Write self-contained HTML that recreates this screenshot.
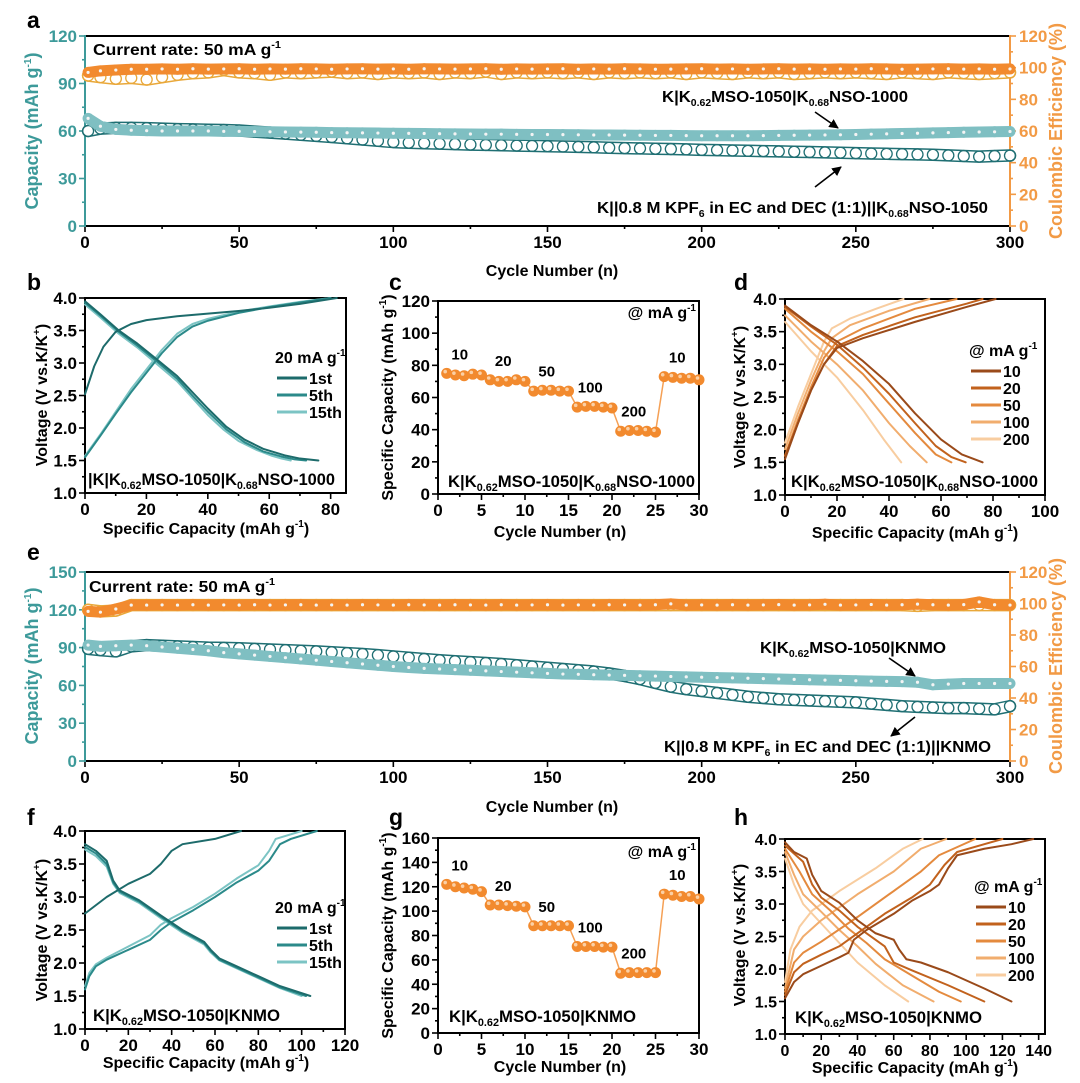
<!DOCTYPE html>
<html><head><meta charset="utf-8">
<style>
html,body{margin:0;padding:0;background:#fff;}
svg{display:block;font-family:"Liberation Sans",Arial,sans-serif;font-weight:bold;}
</style></head>
<body>
<svg id="fig" width="1080" height="1083" viewBox="0 0 1080 1083" xmlns="http://www.w3.org/2000/svg">
<rect width="1080" height="1083" fill="#fff"/>
<g id="static" font-weight="bold">
<text x="27" y="28" font-size="23">a</text>
<text x="27" y="290" font-size="23">b</text>
<text x="389" y="290" font-size="23">c</text>
<text x="734" y="290" font-size="23">d</text>
<text x="27" y="560" font-size="23">e</text>
<text x="27" y="825" font-size="23">f</text>
<text x="389" y="825" font-size="23">g</text>
<text x="734" y="825" font-size="23">h</text>

<text x="93" y="55" font-size="16" textLength="188" lengthAdjust="spacingAndGlyphs">Current rate: 50 mA g<tspan font-size="10" dy="-7">-1</tspan></text>
<text x="662" y="102" font-size="16" textLength="246" lengthAdjust="spacingAndGlyphs">K|K<tspan font-size="10" dy="4">0.62</tspan><tspan dy="-4">MSO-1050|K</tspan><tspan font-size="10" dy="4">0.68</tspan><tspan dy="-4">NSO-1000</tspan></text>
<text x="597" y="213" font-size="16" textLength="391" lengthAdjust="spacingAndGlyphs">K||0.8 M KPF<tspan font-size="10" dy="4">6</tspan><tspan dy="-4"> in EC and DEC (1:1)||K</tspan><tspan font-size="10" dy="4">0.68</tspan><tspan dy="-4">NSO-1050</tspan></text>
<text x="89" y="592" font-size="16" textLength="186" lengthAdjust="spacingAndGlyphs">Current rate: 50 mA g<tspan font-size="10" dy="-7">-1</tspan></text>
<text x="760" y="653" font-size="16" textLength="186" lengthAdjust="spacingAndGlyphs">K|K<tspan font-size="10" dy="4">0.62</tspan><tspan dy="-4">MSO-1050|KNMO</tspan></text>
<text x="664" y="752" font-size="16" textLength="327" lengthAdjust="spacingAndGlyphs">K||0.8 M KPF<tspan font-size="10" dy="4">6</tspan><tspan dy="-4"> in EC and DEC (1:1)||KNMO</tspan></text>

<text x="88" y="485" font-size="17" textLength="247" lengthAdjust="spacingAndGlyphs">|K|K<tspan font-size="11" dy="4">0.62</tspan><tspan dy="-4">MSO-1050|K</tspan><tspan font-size="11" dy="4">0.68</tspan><tspan dy="-4">NSO-1000</tspan></text>
<text x="448" y="487" font-size="17" textLength="247" lengthAdjust="spacingAndGlyphs">K|K<tspan font-size="11" dy="4">0.62</tspan><tspan dy="-4">MSO-1050|K</tspan><tspan font-size="11" dy="4">0.68</tspan><tspan dy="-4">NSO-1000</tspan></text>
<text x="791" y="487" font-size="17" textLength="247" lengthAdjust="spacingAndGlyphs">K|K<tspan font-size="11" dy="4">0.62</tspan><tspan dy="-4">MSO-1050|K</tspan><tspan font-size="11" dy="4">0.68</tspan><tspan dy="-4">NSO-1000</tspan></text>
<text x="93" y="1021" font-size="17" textLength="187" lengthAdjust="spacingAndGlyphs">K|K<tspan font-size="11" dy="4">0.62</tspan><tspan dy="-4">MSO-1050|KNMO</tspan></text>
<text x="449" y="1022" font-size="17" textLength="187" lengthAdjust="spacingAndGlyphs">K|K<tspan font-size="11" dy="4">0.62</tspan><tspan dy="-4">MSO-1050|KNMO</tspan></text>
<text x="795" y="1023" font-size="17" textLength="187" lengthAdjust="spacingAndGlyphs">K|K<tspan font-size="11" dy="4">0.62</tspan><tspan dy="-4">MSO-1050|KNMO</tspan></text>

<text x="696" y="318" font-size="16" text-anchor="end">@ mA g<tspan font-size="10" dy="-7">-1</tspan></text>
<text x="696" y="857" font-size="16" text-anchor="end">@ mA g<tspan font-size="10" dy="-7">-1</tspan></text>

<defs><marker id="ah" viewBox="0 0 10 10" refX="9" refY="5" markerWidth="6" markerHeight="6" orient="auto"><path d="M0,0L10,5L0,10z" fill="#000"/></marker></defs>
<line x1="815" y1="112" x2="838" y2="128" stroke="#000" stroke-width="1.6" marker-end="url(#ah)"/>
<line x1="815" y1="187" x2="841" y2="167" stroke="#000" stroke-width="1.6" marker-end="url(#ah)"/>
<line x1="889" y1="658" x2="915" y2="676" stroke="#000" stroke-width="1.6" marker-end="url(#ah)"/>
<line x1="915" y1="717" x2="891" y2="736" stroke="#000" stroke-width="1.6" marker-end="url(#ah)"/>
</g>
<g id="dyn"></g>
</svg>
<script>
const cycles = [1,5,10,15,20,25,30,35,40,45,50,55,60,65,70,75,80,85,90,95,100,105,110,115,120,125,130,135,140,145,150,155,160,165,170,175,180,185,190,195,200,205,210,215,220,225,230,235,240,245,250,255,260,265,270,275,280,285,290,295,300];
const aCapNew = [68,63,61,60.5,60.2,60,60,60,60,59.8,59.8,59.6,59.5,59.4,59.3,59.2,59,58.9,58.8,58.7,58.6,58.5,58.4,58.3,58.2,58.1,58,58,57.9,57.8,57.8,57.7,57.6,57.5,57.5,57.4,57.3,57.2,57.2,57.1,57,57,57,57,57.1,57.2,57.3,57.4,57.5,57.6,57.8,58,58.2,58.4,58.6,58.8,59,59.2,59.4,59.5,59.7];
const aCapLiq = [60,61.5,62,62,61.8,61.5,61.2,61,60.8,60.6,60.3,59.6,59,58.3,57.6,56.9,56.2,55.4,54.6,53.8,53,52.6,52.3,52,51.7,51.4,51.2,51,50.8,50.6,50.4,50.2,50,49.7,49.4,49.2,49,48.8,48.6,48.4,48.1,47.9,47.7,47.5,47.3,47.1,46.9,46.7,46.5,46.3,46,45.8,45.6,45.4,45.2,45,44.6,44.2,43.8,44.2,44.5];
const aCENew = [97,98,98.5,99,99,99.2,99,99.3,99.1,99.2,99.3,99,99.2,99.1,99.3,99.2,99,99.2,99.3,99.1,99.2,99,99.3,99.2,99.1,99.2,99.3,99,99.2,99.1,99.2,99.3,99,99.2,99.1,99.3,99.2,99,99.1,99.2,99.3,99.1,99.2,99,99.2,99.3,99.1,99.2,99,99.2,99.1,99.3,99.2,99,99.1,99.2,99.3,99.1,99.2,99,99.2];
const aCEOpen = [95,94,93,93.5,92.5,94,95.5,96.5,97,98.5,97,96.5,95.5,97,96.5,97,97.5,96.5,97,96,97,96.5,97,96,97,96.5,97.5,96,97,96.5,97,96.5,97,96,97,96.5,97,96.5,97,96,97,96.5,96,97,96.5,97,96,96.5,97,96.5,97,96.5,96,97,96.5,96,97,96.5,96,96.5,97];
const eCapNew = [92,91,91.5,92,91.5,90.5,89.5,88.5,87.5,86,85,84,83,82,81,80,79,78,77,76,75,74.2,73.5,73,72.5,72,71.5,71,70.5,70,69.5,69,68.8,68.5,68.2,68,67.7,67.4,67.1,66.8,66.5,66.2,66,65.7,65.4,65.1,64.8,64.5,64.2,64,63.7,63.4,63.2,63,62.5,60.5,61,61.5,61.5,61.5,61.5];
const eCapLiq = [89,88,87,91,92,91.5,91,90.5,90,89.8,89.5,89,88.5,88,87.5,87,86.3,85.6,84.9,84,83,82,81,80,79.2,78.5,77.8,77,76,75,74,73,72,71,69.5,67.5,65,62,59,57,55.5,54,52.5,51,50,49,48.5,48,47.5,47,46.5,45.5,44.5,43.5,43,42.5,42,42,41.5,41,43.5];
const eCENew = [95,94.5,96.5,99,99,99.1,99,99.2,99,99.1,99,99.2,99,99.1,99.2,99,99.1,99,99.2,99.1,99,99.2,99.1,99,99.2,99.1,99,99.2,99,99.1,99.2,99,99.1,99,99.2,99.1,99,99.2,99.8,99,99.1,99,99.2,99,99.1,99.3,99,99.1,99.5,99,99.1,99.4,99,99.2,99.6,99.2,99,99.3,101,99.2,99];
const eCEOpen = [96,95,95.5,99,99,99,99,99,99,99,99,99,99,99,99,99,99,99,99,99,99,99,99,99,99,99,99,99,99,99,99,99,99,99,99,99,99,99,99,99,99,99,99,99,99,99,99,99,99,99,99,99,99,99,98.5,99,99,99,99,99,99];

const rateCycles = [1,2,3,4,5,6,7,8,9,10,11,12,13,14,15,16,17,18,19,20,21,22,23,24,25,26,27,28,29,30];
const cCap = [75,74,73.5,74.5,74,71,70,70,71,70,64,64.5,64.5,64,64,54,54.5,54.5,54,53.5,39,39.5,39.5,39,38.5,73,72.5,72,72,71];
const gCap = [122,120,119,118,116,105,105,104.5,104,103.5,88,88,88,88,88,71,71,71,70.5,70.5,49,49.5,49.5,49.5,49.5,114,113,112,112,110];
const rateLabels = ['10','20','50','100','200','10'];

const bCh1Q=[0,3,6,10,15,20,30,40,50,60,70,82], bCh1V=[2.52,2.95,3.25,3.48,3.6,3.66,3.72,3.76,3.8,3.85,3.91,4.0];
const bCh5Q=[0,5,10,15,20,25,30,35,40,50,60,70,80], bCh5V=[1.55,1.88,2.22,2.55,2.85,3.15,3.4,3.56,3.65,3.77,3.86,3.93,4.0];
const bCh15Q=[0,5,10,15,20,25,30,35,40,50,60,70,80], bCh15V=[1.57,1.9,2.25,2.6,2.9,3.2,3.45,3.6,3.68,3.79,3.87,3.94,4.0];
const bDc1Q=[0,5,11,17,23,30,35,40,46,52,58,65,70,76], bDc1V=[3.95,3.75,3.5,3.3,3.07,2.8,2.55,2.3,2.02,1.82,1.68,1.58,1.53,1.5];
const bDc5Q=[0,5,11,17,23,30,35,40,46,52,58,64,68,72], bDc5V=[3.93,3.73,3.48,3.27,3.04,2.76,2.5,2.25,1.98,1.78,1.64,1.56,1.52,1.5];
const bDc15Q=[0,5,11,17,23,30,35,40,45,50,56,61,64,67], bDc15V=[3.9,3.7,3.45,3.24,3.0,2.72,2.46,2.2,1.98,1.8,1.66,1.57,1.53,1.5];

const dChQ=[[0,5,10,15,20,30,50,70,81],[0,5,10,15,20,30,50,70,76],[0,5,10,15,20,30,50,66],[0,5,10,15,18,25,40,55.5],[0,5,10,15,18,25,35,45.6]];
const dChV=[[1.55,2.1,2.6,3.0,3.25,3.4,3.65,3.88,4.0],[1.6,2.1,2.6,3.0,3.28,3.45,3.72,3.93,4.0],[1.6,2.15,2.65,3.1,3.35,3.55,3.85,4.0],[1.7,2.25,2.75,3.2,3.4,3.6,3.82,4.0],[1.8,2.35,2.85,3.35,3.55,3.7,3.85,4.0]];
const dDcQ=[[0,10,20,30,40,50,60,68,76],[0,10,20,30,40,50,58,64,69.5],[0,10,20,30,40,50,58,64],[0,10,20,30,40,48,54.5],[0,10,20,30,38,44.7]];
const dDcV=[[3.9,3.6,3.35,3.05,2.7,2.25,1.85,1.62,1.5],[3.88,3.58,3.3,2.95,2.55,2.1,1.75,1.58,1.5],[3.85,3.5,3.2,2.85,2.4,1.95,1.62,1.5],[3.75,3.35,3.0,2.6,2.1,1.75,1.5],[3.65,3.2,2.8,2.3,1.85,1.5]];
const rateNames=['10','20','50','100','200'];

const fCh1Q=[0,10,20,30,35,40,45,60,72], fCh1V=[2.75,3.0,3.2,3.35,3.5,3.7,3.8,3.88,4.0];
const fCh5Q=[0,2,5,10,20,30,35,40,50,60,70,80,85,90,95,107], fCh5V=[1.6,1.8,1.95,2.05,2.2,2.35,2.5,2.62,2.8,3.0,3.22,3.4,3.55,3.8,3.88,4.0];
const fCh15Q=[0,2,5,10,20,30,35,40,50,60,70,80,85,88,100], fCh15V=[1.65,1.85,1.98,2.08,2.25,2.42,2.58,2.68,2.85,3.05,3.28,3.48,3.7,3.88,4.0];
const fDc1Q=[0,5,10,13,16,25,35,45,55,58,62,70,80,90,104], fDc1V=[3.8,3.7,3.55,3.25,3.1,2.95,2.72,2.5,2.32,2.2,2.07,1.95,1.8,1.65,1.5];
const fDc5Q=[0,5,10,13,16,25,35,45,55,58,62,70,80,90,102], fDc5V=[3.76,3.66,3.5,3.22,3.08,2.93,2.7,2.48,2.3,2.18,2.05,1.93,1.78,1.63,1.5];
const fDc15Q=[0,5,10,13,16,25,35,45,55,58,62,70,80,90,100], fDc15V=[3.72,3.62,3.46,3.2,3.06,2.91,2.68,2.46,2.28,2.16,2.04,1.92,1.77,1.62,1.5];

const hChQ=[[0,5,10,20,30,35,38,45,60,70,80,85,90,95,110,125,137],[0,5,10,20,30,40,55,70,80,88,95,110,120],[0,5,10,20,40,60,75,85,105],[0,5,10,20,40,60,75,89],[0,3,8,15,30,50,65,76]];
const hChV=[[1.55,1.8,1.92,2.05,2.18,2.25,2.45,2.6,2.85,3.05,3.2,3.3,3.55,3.75,3.85,3.92,4.0],[1.6,1.95,2.08,2.22,2.35,2.55,2.85,3.1,3.3,3.6,3.8,3.92,4.0],[1.65,2.1,2.25,2.42,2.8,3.2,3.5,3.75,4.0],[1.7,2.3,2.5,2.75,3.15,3.5,3.85,4.0],[1.8,2.3,2.65,2.9,3.2,3.55,3.85,4.0]];
const hDcQ=[[0,5,12,15,20,30,40,50,60,63,67,75,90,110,125],[0,10,15,20,30,40,50,55,60,70,90,110],[0,8,15,25,35,45,55,70,85,97],[0,5,10,20,30,40,50,65,82],[0,5,10,20,30,40,55,68]];
const hDcV=[[3.95,3.8,3.7,3.45,3.2,3.02,2.75,2.55,2.45,2.3,2.15,2.1,1.95,1.7,1.5],[3.9,3.65,3.3,3.1,2.9,2.65,2.45,2.35,2.1,1.98,1.75,1.5],[3.85,3.5,3.15,2.9,2.62,2.4,2.15,1.9,1.65,1.5],[3.8,3.45,3.15,2.88,2.6,2.35,2.08,1.75,1.5],[3.7,3.3,3.0,2.7,2.4,2.1,1.75,1.5]];

const aXTicks=['0','50','100','150','200','250','300'];
const aYTicks=['0','30','60','90','120'];
const eYTicks=['0','30','60','90','120','150'];
const ceTicks=['0','20','40','60','80','100','120'];
const vTicks=['1.0','1.5','2.0','2.5','3.0','3.5','4.0'];
const bXTicks=['0','20','40','60','80'];
const dXTicks=['0','20','40','60','80','100'];
const fXTicks=['0','20','40','60','80','100','120'];
const hXTicks=['0','20','40','60','80','100','120','140'];
const rXTicks=['0','5','10','15','20','25','30'];
const cYTicks=['0','20','40','60','80','100','120'];
const gYTicks=['0','20','40','60','80','100','120','140','160'];

const NS='http://www.w3.org/2000/svg';
const root=document.getElementById('dyn');
function mk(tag,a,parent){const e=document.createElementNS(NS,tag);for(const k in a)e.setAttribute(k,a[k]);(parent||root).appendChild(e);return e;}
const TEAL='#3d9a9a', ORANGE='#f29a45';

function panel(p){
  const g=mk('g',{});
  
  
  const sx=v=>p.x0+(v-p.xmin)/(p.xmax-p.xmin)*(p.x1-p.x0);
  const sy=v=>p.y1-(v-p.ymin)/(p.ymax-p.ymin)*(p.y1-p.y0);
  p.sx=sx;p.sy=sy;p.g=g;
  const lc=p.leftColor||'#000', rc=p.right?p.right.color:'#000';
  const xt=p.xTicks.map(Number);
  const xs=(xt[1]-xt[0])/2;
  for(let v=p.xmin;v<=p.xmax+1e-9;v+=xs){
    const major=Math.abs((v-xt[0])/(xt[1]-xt[0])-Math.round((v-xt[0])/(xt[1]-xt[0])))<1e-6;
    const t=mk('line',{x1:sx(v),x2:sx(v),y1:p.y1,y2:p.y1+(major?6:3),stroke:'#000','stroke-width':1.6},g);
    
    
  }
  p.xTicks.forEach(s=>{
    const t=mk('text',{x:sx(Number(s)),y:p.y1+22,'font-size':p.fs||17,'text-anchor':'middle',fill:'#000'},g);
    t.textContent=s;
    
    
  });
  const yt=p.yTicks.map(Number);
  const ys=(yt[1]-yt[0])/2;
  for(let v=p.ymin;v<=p.ymax+1e-9;v+=ys){
    const major=Math.abs((v-yt[0])/(yt[1]-yt[0])-Math.round((v-yt[0])/(yt[1]-yt[0])))<1e-6;
    const t=mk('line',{x1:p.x0,x2:p.x0-(major?6:3),y1:sy(v),y2:sy(v),stroke:lc,'stroke-width':1.6},g);
    
    
  }
  p.yTicks.forEach(s=>{
    const t=mk('text',{x:p.x0-8,y:sy(Number(s))+6,'font-size':p.fs||17,'text-anchor':'end',fill:lc},g);
    t.textContent=s;
    
    
  });
  if(p.right){
    const r=p.right, ry=v=>p.y1-(v-r.min)/(r.max-r.min)*(p.y1-p.y0);
    p.ry=ry;
    for(let v=r.min;v<=r.max+1e-9;v+=10){
      const major=v%20===0;
      const t=mk('line',{x1:p.x1,x2:p.x1+(major?6:3),y1:ry(v),y2:ry(v),stroke:rc,'stroke-width':1.6},g);
      
      
    }
    r.ticks.forEach(s=>{
      const t=mk('text',{x:p.x1+9,y:ry(Number(s))+6,'font-size':17,fill:rc},g);
      t.textContent=s;
      
      
    });
  }
  const f1=mk('line',{x1:p.x0,x2:p.x1,y1:p.y0,y2:p.y0,stroke:'#000','stroke-width':2},g);
  
  const f2=mk('line',{x1:p.x0,x2:p.x1,y1:p.y1,y2:p.y1,stroke:'#000','stroke-width':2},g);
  
  const f3=mk('line',{x1:p.x0,x2:p.x0,y1:p.y0-1,y2:p.y1+1,stroke:lc,'stroke-width':2},g);
  
  const f4=mk('line',{x1:p.x1,x2:p.x1,y1:p.y0-1,y2:p.y1+1,stroke:rc,'stroke-width':2},g);
  
  const xt2=mk('text',{x:p.xtx,y:p.xty,'font-size':16,'text-anchor':'middle'},g);
  
  xt2.innerHTML=p.xTitle;
  const yt2=mk('text',{x:0,y:0,'font-size':p.ytfs||16,'text-anchor':'middle',fill:lc,transform:`translate(${p.ytx},${p.yty}) rotate(-90)`},g);
  
  yt2.innerHTML=p.yTitle;
  if(p.right){
    const rt=mk('text',{x:0,y:0,'font-size':18,'text-anchor':'middle',fill:rc,transform:`translate(${p.right.tx},${p.yty}) rotate(-90)`},g);
    
    rt.textContent='Coulombic Efficiency (%)';
  }
  return p;
}
const SUP='<tspan font-size="10" dy="-7">-1</tspan><tspan dy="7">)</tspan>';
const SUPK='<tspan font-size="10" dy="-7">+</tspan><tspan dy="7">)</tspan>';

function curve(p,qs,vs,color,w,name){
  const pts=qs.map((q,i)=>p.sx(q)+','+p.sy(vs[i])).join(' ');
  const l=mk('polyline',{points:pts,fill:'none',stroke:color,'stroke-width':w,'stroke-linejoin':'round','stroke-linecap':'round'},p.g);
  
  
}
function openSeries(p,xs,ys,yfun,color,name){
  const g=mk('g',{},p.g);
  
  
  const pts=xs.map((x,i)=>p.sx(x)+','+yfun(ys[i])).join(' ');
  const b1=mk('polyline',{points:pts,fill:'none',stroke:color,'stroke-width':12.5,'stroke-linejoin':'round','stroke-linecap':'round'},g);
  
  
  const b2=mk('polyline',{points:pts,fill:'none',stroke:'#fff','stroke-width':9.5,'stroke-linejoin':'round','stroke-linecap':'round'},g);
  
  
  xs.forEach((x,i)=>{
    const c=mk('circle',{cx:p.sx(x),cy:yfun(ys[i]),r:5.5,fill:'none',stroke:color,'stroke-width':1.3},g);
    
    
  });
}
function filledSeries(p,xs,ys,yfun,color,name){
  const g=mk('g',{},p.g);
  
  
  const pl=mk('polyline',{points:xs.map((x,i)=>p.sx(x)+','+yfun(ys[i])).join(' '),fill:'none',stroke:color,'stroke-width':11,'stroke-linejoin':'round'},g);
  
  
  xs.forEach((x,i)=>{
    const c=mk('circle',{cx:p.sx(x),cy:yfun(ys[i]),r:5.5,fill:color},g);
    
    
    const d=mk('circle',{cx:p.sx(x),cy:yfun(ys[i]),r:1.6,fill:'#f4f4f4'},g);
    
    
  });
}

const pa=panel({name:'panel-a',x0:85,x1:1010,y0:36,y1:226,xmin:0,xmax:300,ymin:0,ymax:120,xTicks:aXTicks,yTicks:aYTicks,leftColor:TEAL,
  right:{min:0,max:120,ticks:ceTicks,color:ORANGE,tx:1062},xTitle:'Cycle Number (n)',xtx:552,xty:276,yTitle:'Capacity (mAh g'+SUP,ytx:38,yty:131,ytfs:18});
openSeries(pa,cycles,aCEOpen,pa.ry,'#e9a83a','ce-series-a-liquid');
filledSeries(pa,cycles,aCENew,pa.ry,'#f28a2e','ce-series-a-new');
openSeries(pa,cycles,aCapLiq,pa.sy,'#1f6f73','capacity-series-a-liquid');
filledSeries(pa,cycles,aCapNew,pa.sy,'#7fbfc2','capacity-series-a-new');

const pe=panel({name:'panel-e',x0:85,x1:1010,y0:572,y1:761,xmin:0,xmax:300,ymin:0,ymax:150,xTicks:aXTicks,yTicks:eYTicks,leftColor:TEAL,
  right:{min:0,max:120,ticks:ceTicks,color:ORANGE,tx:1062},xTitle:'Cycle Number (n)',xtx:552,xty:812,yTitle:'Capacity (mAh g'+SUP,ytx:38,yty:666,ytfs:18});
openSeries(pe,cycles,eCEOpen,pe.ry,'#e9a83a','ce-series-e-liquid');
filledSeries(pe,cycles,eCENew,pe.ry,'#f28a2e','ce-series-e-new');
openSeries(pe,cycles,eCapLiq,pe.sy,'#1f6f73','capacity-series-e-liquid');
filledSeries(pe,cycles,eCapNew,pe.sy,'#7fbfc2','capacity-series-e-new');

const VT='Voltage (V vs.K/K'+SUPK;
const pb=panel({name:'panel-b',x0:85,x1:346,y0:298,y1:493,xmin:0,xmax:85,ymin:1,ymax:4,xTicks:bXTicks,yTicks:vTicks,
  xTitle:'Specific Capacity (mAh g'+SUP,xtx:206,xty:534,yTitle:VT,ytx:47,yty:395});
const bc=['#1d6b6b','#2b8a8a','#7cc4c4'];
curve(pb,bCh15Q,bCh15V,bc[2],2,'charge-15th');curve(pb,bDc15Q,bDc15V,bc[2],2,'discharge-15th');
curve(pb,bCh5Q,bCh5V,bc[1],2,'charge-5th');curve(pb,bDc5Q,bDc5V,bc[1],2,'discharge-5th');
curve(pb,bCh1Q,bCh1V,bc[0],2,'charge-1st');curve(pb,bDc1Q,bDc1V,bc[0],2,'discharge-1st');

const pf=panel({name:'panel-f',x0:85,x1:345,y0:831,y1:1029,xmin:0,xmax:120,ymin:1,ymax:4,xTicks:fXTicks,yTicks:vTicks,
  xTitle:'Specific Capacity (mAh g'+SUP,xtx:206,xty:1068,yTitle:VT,ytx:47,yty:930});
curve(pf,fCh15Q,fCh15V,bc[2],2,'charge-15th');curve(pf,fDc15Q,fDc15V,bc[2],2,'discharge-15th');
curve(pf,fCh5Q,fCh5V,bc[1],2,'charge-5th');curve(pf,fDc5Q,fDc5V,bc[1],2,'discharge-5th');
curve(pf,fCh1Q,fCh1V,bc[0],2,'charge-1st');curve(pf,fDc1Q,fDc1V,bc[0],2,'discharge-1st');

function legend(p,x,y0,title,names,colors,step){
  const g=mk('g',{},p.g);
  
  
  const t=mk('text',{x:x,y:y0,'font-size':16},g);
  t.innerHTML=title;
  
  
  names.forEach((n,i)=>{
    const y=y0+15+i*step;
    const l=mk('line',{x1:x+2,x2:x+32,y1:y,y2:y,stroke:colors[i],'stroke-width':3},g);
    
    
    const tt=mk('text',{x:x+34,y:y+6,'font-size':16},g);
    tt.textContent=n;
    
    
  });
}
legend(pb,275,363,'20 mA g<tspan font-size="10" dy="-7">-1</tspan>',['1st','5th','15th'],bc,17);
legend(pf,275,913,'20 mA g<tspan font-size="10" dy="-7">-1</tspan>',['1st','5th','15th'],bc,17);

function ratePanel(name,y0,y1,ymax,yTicks,vals,lblPos,title){
  const p=panel({name:name,x0:438,x1:699,y0:y0,y1:y1,xmin:0,xmax:30,ymin:0,ymax:ymax,xTicks:rXTicks,yTicks:yTicks,
    xTitle:'Cycle Number (n)',xtx:560,xty:title,yTitle:'Specific Capacity (mAh g'+SUP,ytx:393,yty:(y0+y1)/2});
  curve(p,rateCycles,vals,'#f5a055',1.5,'rate-line');
  rateCycles.forEach((c,i)=>{
    const m=mk('circle',{cx:p.sx(c),cy:p.sy(vals[i]),r:5.5,fill:'#f28a2e'},p.g);
    
    
    const h=mk('circle',{cx:p.sx(c)-1.5,cy:p.sy(vals[i])-1.8,r:1.8,fill:'#fbd0a5'},p.g);
    
    
  });
  [1,6,11,16,21,26].forEach((c,k)=>{
    const grp=vals.slice(c-1,c+4);
    const t=mk('text',{x:p.sx(c+1.5),y:p.sy(Math.max(...grp))-lblPos,'font-size':15,'text-anchor':'middle'},p.g);
    t.textContent=rateLabels[k];
    
    
  });
  return p;
}
ratePanel('panel-c',301,494,120,cYTicks,cCap,14,537);
ratePanel('panel-g',838,1033,160,gYTicks,gCap,14,1072);

const dc=['#9a4a1a','#c2621d','#e48a3e','#f1ad6e','#f8cda0'];
const pd=panel({name:'panel-d',x0:785,x1:1045,y0:299,y1:495,xmin:0,xmax:100,ymin:1,ymax:4,xTicks:dXTicks,yTicks:vTicks,
  xTitle:'Specific Capacity (mAh g'+SUP,xtx:915,xty:538,yTitle:VT,ytx:745,yty:397});
for(let i=4;i>=0;i--){curve(pd,dChQ[i],dChV[i],dc[i],2,'charge-'+rateNames[i]);curve(pd,dDcQ[i],dDcV[i],dc[i],2,'discharge-'+rateNames[i]);}
legend(pd,969,356,'@ mA g<tspan font-size="10" dy="-7">-1</tspan>',rateNames,dc,17);

const ph=panel({name:'panel-h',x0:785,x1:1045,y0:839,y1:1034,xmin:0,xmax:143.5,ymin:1,ymax:4,xTicks:hXTicks,yTicks:vTicks,
  xTitle:'Specific Capacity (mAh g'+SUP,xtx:915,xty:1073,yTitle:VT,ytx:745,yty:935,fs:16});
for(let i=4;i>=0;i--){curve(ph,hChQ[i],hChV[i],dc[i],2,'charge-'+rateNames[i]);curve(ph,hDcQ[i],hDcV[i],dc[i],2,'discharge-'+rateNames[i]);}
legend(ph,974,892,'@ mA g<tspan font-size="10" dy="-7">-1</tspan>',rateNames,dc,17);
</script>
</body></html>
